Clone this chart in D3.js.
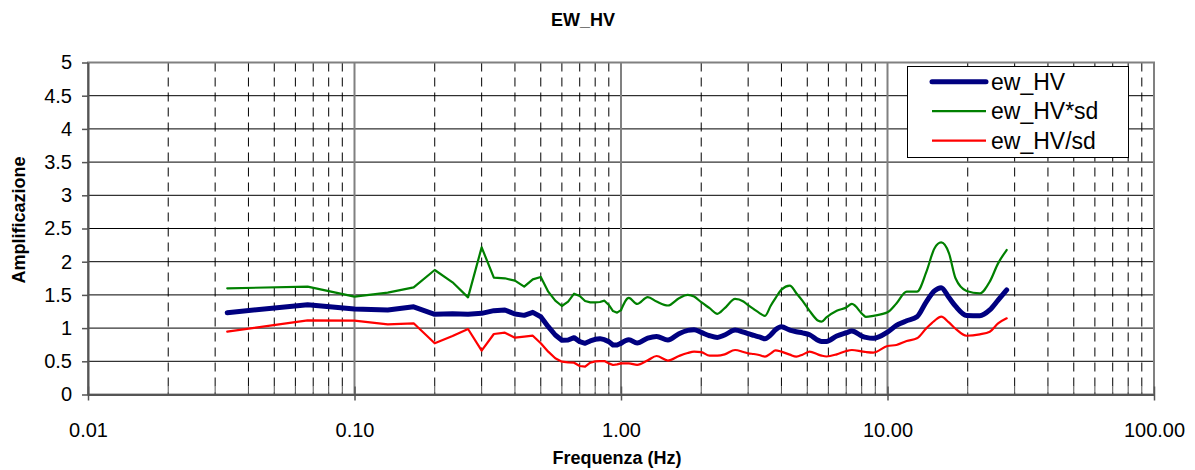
<!DOCTYPE html>
<html>
<head>
<meta charset="utf-8">
<script src="https://cdn.jsdelivr.net/npm/d3@7"></script>
<style>
  html, body { margin: 0; padding: 0; background: #fff; }
  svg { display: block; font-family: "Liberation Sans", Arial, sans-serif; }
</style>
</head>
<body>
<svg id="chart" width="1195" height="470"></svg>
<script>
// ---- data ----
const title = "EW_HV";
const xTitle = "Frequenza (Hz)";
const yTitle = "Amplificazione";
const seriesNames = ["ew_HV", "ew_HV*sd", "ew_HV/sd"];
const xTickValues = [0.01, 0.1, 1, 10, 100];
const xTickLabels = ["0.01", "0.10", "1.00", "10.00", "100.00"];
const yTickValues = [0, 0.5, 1, 1.5, 2, 2.5, 3, 3.5, 4, 4.5, 5];
const yTickLabels = ["0", "0.5", "1", "1.5", "2", "2.5", "3", "3.5", "4", "4.5", "5"];

const freq = [
  0.0333, 0.0667, 0.1000, 0.1333, 0.1667, 0.2000, 0.2333, 0.2667, 0.3000, 0.3333,
  0.3667, 0.4000, 0.4333, 0.4667, 0.5000, 0.5333, 0.5667, 0.6000, 0.6333, 0.6667,
  0.7000, 0.7333, 0.7667, 0.8000, 0.8333, 0.8667, 0.9000, 0.9333, 0.9667,
  1.00, 1.07, 1.15, 1.26, 1.36, 1.50, 1.65, 1.78, 1.88, 2.00,
  2.15, 2.30, 2.45, 2.68, 2.88, 3.00, 3.15, 3.30, 3.47, 3.65,
  3.80, 4.00, 4.30, 4.55, 4.80, 5.10, 5.50, 5.66, 5.90, 6.45,
  7.00, 7.35, 8.10, 8.30, 8.85, 10.0, 10.8, 11.8, 12.9, 14.0,
  15.0, 15.9, 17.0, 18.0, 19.8, 22.2, 24.2, 26.0, 28.0
];

const hv = [
  1.232, 1.353, 1.288, 1.273, 1.320, 1.207, 1.217, 1.207, 1.222, 1.263,
  1.273, 1.212, 1.192, 1.237, 1.172, 1.022, 0.896, 0.816, 0.821, 0.856,
  0.796, 0.771, 0.806, 0.831, 0.841, 0.826, 0.796, 0.745, 0.745,
  0.771, 0.826, 0.775, 0.850, 0.875, 0.821, 0.915, 0.965, 0.975, 0.935,
  0.885, 0.860, 0.896, 0.971, 0.940, 0.915, 0.890, 0.867, 0.840, 0.900,
  0.975, 1.020, 0.970, 0.945, 0.928, 0.900, 0.815, 0.800, 0.800, 0.881,
  0.930, 0.956, 0.872, 0.860, 0.846, 0.940, 1.040, 1.110, 1.170, 1.400,
  1.560, 1.609, 1.460, 1.330, 1.190, 1.187, 1.273, 1.420, 1.574
];

const hvTimesSd = [
  1.599, 1.624, 1.473, 1.534, 1.614, 1.875, 1.690, 1.463, 2.216, 1.760,
  1.750, 1.714, 1.624, 1.734, 1.770, 1.549, 1.413, 1.333, 1.398, 1.519,
  1.483, 1.408, 1.388, 1.388, 1.393, 1.413, 1.348, 1.257, 1.232,
  1.270, 1.455, 1.365, 1.468, 1.400, 1.340, 1.450, 1.500, 1.475, 1.390,
  1.300, 1.215, 1.300, 1.440, 1.400, 1.345, 1.285, 1.230, 1.185, 1.340,
  1.450, 1.580, 1.640, 1.525, 1.410, 1.260, 1.110, 1.097, 1.160, 1.260,
  1.310, 1.365, 1.200, 1.170, 1.185, 1.237, 1.370, 1.549, 1.549, 1.850,
  2.200, 2.290, 2.130, 1.750, 1.560, 1.524, 1.700, 1.975, 2.176
];

const hvDivSd = [
  0.946, 1.117, 1.112, 1.057, 1.072, 0.771, 0.881, 0.986, 0.660, 0.911,
  0.931, 0.856, 0.871, 0.886, 0.771, 0.645, 0.545, 0.494, 0.484, 0.479,
  0.429, 0.419, 0.479, 0.499, 0.504, 0.504, 0.469, 0.444, 0.454,
  0.469, 0.469, 0.447, 0.515, 0.580, 0.510, 0.580, 0.625, 0.645, 0.637,
  0.585, 0.585, 0.605, 0.670, 0.640, 0.620, 0.610, 0.595, 0.570, 0.620,
  0.665, 0.645, 0.600, 0.570, 0.600, 0.645, 0.600, 0.585, 0.572, 0.605,
  0.655, 0.670, 0.645, 0.640, 0.632, 0.730, 0.746, 0.806, 0.846, 1.000,
  1.110, 1.172, 1.085, 0.990, 0.885, 0.906, 0.946, 1.070, 1.147
];

const seriesColors = ["#000080", "#008000", "#FF0000"];
const seriesWidths = [5, 2.2, 2.2];

// ---- layout ----
const svg = d3.select("#chart");
const L = 88, R = 1154, T = 62.5, B = 394.5;
const x = d3.scaleLog().domain([0.01, 100]).range([L, R]);
const y = d3.scaleLinear().domain([0, 5]).range([B, T]);

svg.append("rect").attr("x", 0).attr("y", 0).attr("width", 1195).attr("height", 470).attr("fill", "#fff");

// horizontal gridlines
svg.append("g").selectAll("line")
  .data(yTickValues.filter(v => v > 0 && v < 5))
  .join("line")
  .attr("x1", L).attr("x2", R)
  .attr("y1", d => y(d)).attr("y2", d => y(d))
  .attr("stroke", "#000").attr("stroke-width", 1);

// minor vertical gridlines (dashed)
const allTicks = x.ticks();
const minor = allTicks.filter(t => !xTickValues.some(m => Math.abs(m - t) / m < 1e-6));
svg.append("g").selectAll("line")
  .data(minor)
  .join("line")
  .attr("x1", d => x(d)).attr("x2", d => x(d))
  .attr("y1", T).attr("y2", B)
  .attr("stroke", "#000").attr("stroke-width", 1)
  .attr("stroke-dasharray", "9,6");

// major vertical gridlines
svg.append("g").selectAll("line")
  .data(xTickValues.slice(1, -1))
  .join("line")
  .attr("x1", d => x(d)).attr("x2", d => x(d))
  .attr("y1", T).attr("y2", B)
  .attr("stroke", "#808080").attr("stroke-width", 2);

// plot border
svg.append("rect")
  .attr("x", L).attr("y", T).attr("width", R - L).attr("height", B - T)
  .attr("fill", "none").attr("stroke", "#808080").attr("stroke-width", 2);

// x axis
const xAxis = d3.axisBottom(x)
  .tickValues(xTickValues)
  .tickFormat((d, i) => xTickLabels[i])
  .tickSize(6).tickSizeOuter(0).tickPadding(22);
const gx = svg.append("g").attr("transform", `translate(0,${B})`).call(xAxis);
gx.select(".domain").attr("stroke", "#555").attr("stroke-width", 2);
gx.selectAll(".tick line").attr("stroke", "#555").attr("stroke-width", 1.5).attr("y1", -8);
gx.selectAll(".tick text").attr("font-size", 20).attr("fill", "#000")
  .attr("font-family", "Liberation Sans, Arial, sans-serif");

// minor x ticks inside
svg.append("g").selectAll("line")
  .data(minor)
  .join("line")
  .attr("x1", d => x(d)).attr("x2", d => x(d))
  .attr("y1", B - 8).attr("y2", B)
  .attr("stroke", "#555").attr("stroke-width", 1);

// y axis
const yAxis = d3.axisLeft(y)
  .tickValues(yTickValues)
  .tickFormat((d, i) => yTickLabels[i])
  .tickSize(6).tickSizeOuter(0).tickPadding(10);
const gy = svg.append("g").attr("transform", `translate(${L},0)`).call(yAxis);
gy.select(".domain").attr("stroke", "#555").attr("stroke-width", 2);
gy.selectAll(".tick line").attr("stroke", "#555").attr("stroke-width", 1.5);
gy.selectAll(".tick text").attr("font-size", 20).attr("fill", "#000")
  .attr("font-family", "Liberation Sans, Arial, sans-serif");

// series: straight segments where samples are sparse, smooth where dense
const lineLinear = d3.line().x(d => x(d[0])).y(d => y(d[1])).curve(d3.curveLinear);
const lineSmooth = d3.line().x(d => x(d[0])).y(d => y(d[1])).curve(d3.curveMonotoneX);
const seriesData = [hv, hvTimesSd, hvDivSd];

seriesData.forEach((vals, si) => {
  const pts = freq.map((f, i) => [f, vals[i]]);
  const low = pts.filter(p => p[0] <= 1.0);
  const high = pts.filter(p => p[0] >= 1.0);
  const g = svg.append("g")
    .attr("fill", "none")
    .attr("stroke", seriesColors[si])
    .attr("stroke-width", seriesWidths[si])
    .attr("stroke-linejoin", "round")
    .attr("stroke-linecap", "round");
  g.append("path").datum(low).attr("d", lineLinear);
  g.append("path").datum(high).attr("d", lineSmooth);
});

// legend
const lg = svg.append("g");
lg.append("rect")
  .attr("x", 907.5).attr("y", 66.5).attr("width", 221).attr("height", 91)
  .attr("fill", "#fff").attr("stroke", "#000").attr("stroke-width", 1);
const legY = [81.7, 111.2, 140.7];
seriesNames.forEach((name, i) => {
  lg.append("line")
    .attr("x1", 932).attr("x2", 986)
    .attr("y1", legY[i]).attr("y2", legY[i])
    .attr("stroke", seriesColors[i]).attr("stroke-width", seriesWidths[i])
    .attr("stroke-linecap", i === 0 ? "round" : "butt");
  lg.append("text")
    .attr("x", 991).attr("y", legY[i] + 8)
    .attr("font-size", 23).attr("fill", "#000")
    .text(name);
});

// titles
svg.append("text")
  .attr("x", 583).attr("y", 26)
  .attr("text-anchor", "middle")
  .attr("font-size", 18).attr("font-weight", "bold")
  .text(title);

svg.append("text")
  .attr("x", 617).attr("y", 464)
  .attr("text-anchor", "middle")
  .attr("font-size", 18).attr("font-weight", "bold")
  .text(xTitle);

svg.append("text")
  .attr("transform", "translate(25,220) rotate(-90)")
  .attr("text-anchor", "middle")
  .attr("font-size", 18).attr("font-weight", "bold")
  .text(yTitle);
</script>
</body>
</html>
